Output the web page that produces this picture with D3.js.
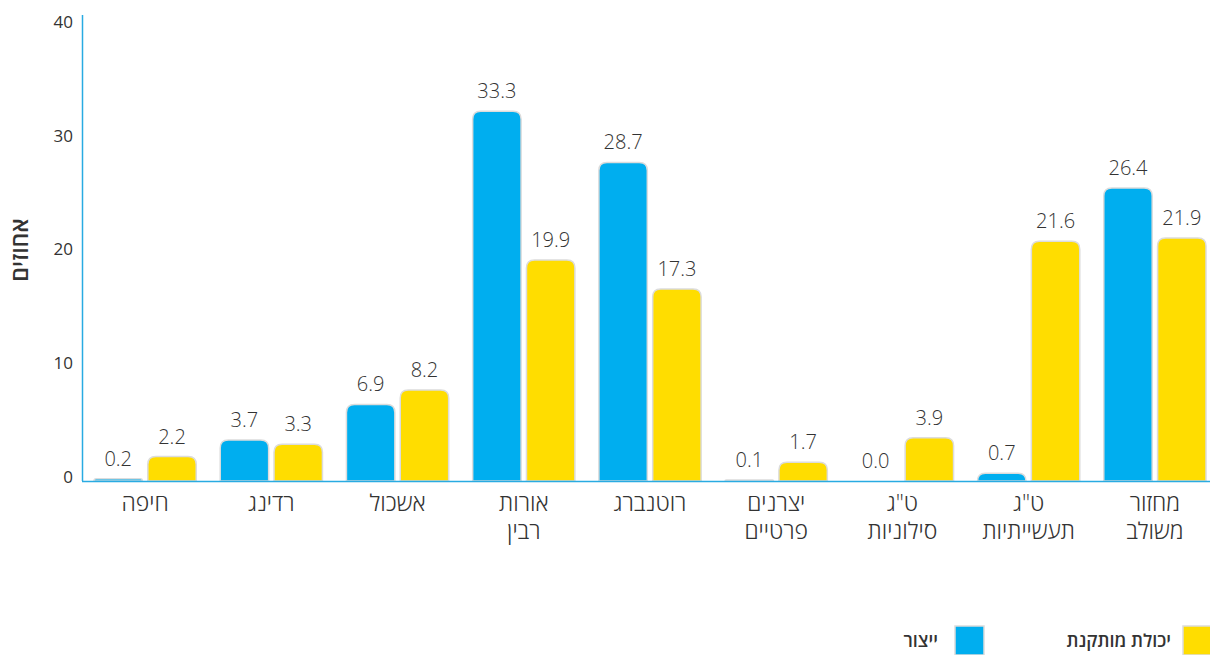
<!DOCTYPE html>
<html lang="he">
<head>
<meta charset="utf-8">
<script src="https://cdn.jsdelivr.net/npm/d3@7"></script>
<style>
  body { margin: 0; background: #fff; }
  svg { display: block; font-family: "Open Sans", "Noto Sans", sans-serif; }
</style>
</head>
<body>
<script>
// categories, left to right (each entry split into lines)
var categories = [["חיפה"], ["רדינג"], ["אשכול"], ["אורות", "רבין"], ["רוטנברג"],
  ["יצרנים", "פרטיים"], ["ט\"ג", "סילוניות"], ["ט\"ג", "תעשייתיות"], ["מחזור", "משולב"]];
var seriesNames = ["ייצור", "יכולת מותקנת"];
var production = [0.2, 3.7, 6.9, 33.3, 28.7, 0.1, 0.0, 0.7, 26.4];
var capacity = [2.2, 3.3, 8.2, 19.9, 17.3, 1.7, 3.9, 21.6, 21.9];
var yTicks = [0, 10, 20, 30, 40];
var yTitle = "אחוזים";

var w = 1210, h = 655;
var colors = ["#00aeef", "#ffdd00"];
var axisColor = "#29abe2";

var svg = d3.select("body").append("svg")
  .attr("width", w)
  .attr("height", h);

var names = categories.map(function(c){ return c.join(" "); });

var x0 = d3.scaleBand()
  .domain(names)
  .range([82, 1218])
  .paddingInner(0.19)
  .paddingOuter(0.095);

var x1 = d3.scaleBand()
  .domain(seriesNames)
  .range([0, x0.bandwidth()])
  .paddingInner(0.1);

// bars
var y = d3.scaleLinear().domain([0, 40]).range([481, 37]);
// tick labels sit a little higher than the bars' scale in the original
var yAxisScale = d3.scaleLinear().domain([0, 40]).range([477, 22]);

var data = [];
names.forEach(function(n, i){
  data.push({cat: n, s: seriesNames[0], v: production[i], c: colors[0]});
  data.push({cat: n, s: seriesNames[1], v: capacity[i], c: colors[1]});
});

function barPath(d) {
  var bx = x0(d.cat) + x1(d.s), bw = x1.bandwidth();
  var base = y(0), top = y(d.v);
  var hgt = base - top;
  if (hgt <= 0) return "";
  var r = Math.min(8, hgt);
  return "M" + bx + "," + base +
    "V" + (top + r) +
    "Q" + bx + "," + top + " " + (bx + r) + "," + top +
    "H" + (bx + bw - r) +
    "Q" + (bx + bw) + "," + top + " " + (bx + bw) + "," + (top + r) +
    "V" + base + "Z";
}

svg.append("g").selectAll("path")
  .data(data)
  .enter()
  .append("path")
  .attr("d", barPath)
  .attr("fill", function(d){ return d.c; })
  .attr("stroke", "#dcdcdc")
  .attr("stroke-width", 1.5);

// value labels
svg.append("g").selectAll("text")
  .data(data)
  .enter()
  .append("text")
  .attr("x", function(d){ return x0(d.cat) + x1(d.s) + x1.bandwidth() / 2; })
  .attr("y", function(d){ return y(d.v) - 13; })
  .attr("text-anchor", "middle")
  .attr("font-size", 20)
  .attr("font-weight", 300)
  .attr("fill", "#333")
  .text(function(d){ return d.v.toFixed(1); });

// y axis
var yAxis = d3.axisLeft(yAxisScale).tickValues(yTicks).tickSize(0).tickPadding(9);
var yg = svg.append("g")
  .attr("transform", "translate(82,0)")
  .call(yAxis);
yg.select(".domain").remove();
yg.selectAll("text")
  .attr("font-size", 17)
  .attr("fill", "#333")
  .attr("font-family", "Open Sans, Noto Sans, sans-serif");

// axis lines
svg.append("line")
  .attr("x1", 82.5).attr("x2", 82.5)
  .attr("y1", 15).attr("y2", y(0))
  .attr("stroke", axisColor).attr("stroke-width", 1.5);
svg.append("line")
  .attr("x1", 82).attr("x2", w)
  .attr("y1", y(0) + 0.5).attr("y2", y(0) + 0.5)
  .attr("stroke", axisColor).attr("stroke-width", 1.5);

// y title
svg.append("text")
  .attr("transform", "translate(28,250) rotate(-90)")
  .attr("text-anchor", "middle")
  .attr("font-size", 23)
  .attr("font-weight", 600)
  .attr("fill", "#333")
  .text(yTitle);

// category labels, one text per line
var lines = [];
categories.forEach(function(c, i){
  c.forEach(function(t, j){ lines.push({cat: names[i], t: t, line: j}); });
});
svg.append("g").selectAll("text")
  .data(lines)
  .enter()
  .append("text")
  .attr("x", function(d){ return x0(d.cat) + x0.bandwidth() / 2; })
  .attr("y", function(d){ return 511 + d.line * 28; })
  .attr("text-anchor", "middle")
  .attr("font-size", 23)
  .attr("font-weight", 300)
  .attr("fill", "#333")
  .text(function(d){ return d.t; });

// legend (right to left)
var legend = [
  {name: seriesNames[1], c: colors[1], sx: 1183, tx: 1171},
  {name: seriesNames[0], c: colors[0], sx: 955, tx: 938}
];
var lg = svg.append("g").selectAll("g")
  .data(legend)
  .enter()
  .append("g");
lg.append("rect")
  .attr("x", function(d){ return d.sx; })
  .attr("y", 626)
  .attr("width", 29).attr("height", 29)
  .attr("fill", function(d){ return d.c; })
  .attr("stroke", "#dcdcdc")
  .attr("stroke-width", 1.5);
lg.append("text")
  .attr("x", function(d){ return d.tx; })
  .attr("y", 647)
  .attr("text-anchor", "end")
  .attr("font-size", 18)
  .attr("font-weight", 600)
  .attr("fill", "#333")
  .text(function(d){ return d.name; });
</script>
</body>
</html>
